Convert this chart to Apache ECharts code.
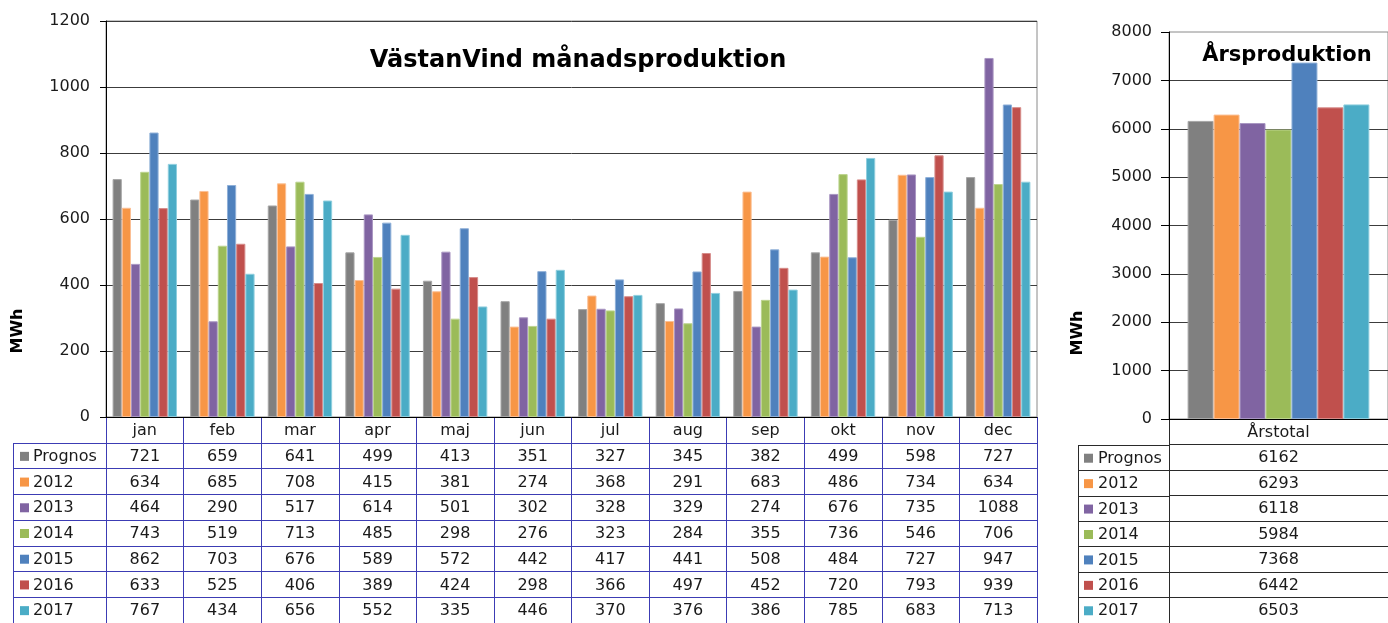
<!DOCTYPE html>
<html>
<head>
<meta charset="utf-8">
<script src="https://cdn.jsdelivr.net/npm/echarts@6/dist/echarts.min.js"></script>
<style>
html,body{margin:0;padding:0;background:#fff;}
#chart{width:1388px;height:623px;}
</style>
</head>
<body>
<div id="chart"></div>
<script>
const months = ['jan','feb','mar','apr','maj','jun','jul','aug','sep','okt','nov','dec'];
const seriesNames = ['Prognos','2012','2013','2014','2015','2016','2017'];
const prognos = [721,659,641,499,413,351,327,345,382,499,598,727];
const y2012 = [634,685,708,415,381,274,368,291,683,486,734,634];
const y2013 = [464,290,517,614,501,302,328,329,274,676,735,1088];
const y2014 = [743,519,713,485,298,276,323,284,355,736,546,706];
const y2015 = [862,703,676,589,572,442,417,441,508,484,727,947];
const y2016 = [633,525,406,389,424,298,366,497,452,720,793,939];
const y2017 = [767,434,656,552,335,446,370,376,386,785,683,713];
const annualCategory = ['Årstotal'];
const annualTotals = [6162,6293,6118,5984,7368,6442,6503];
const monthlyTitle = 'VästanVind månadsproduktion';
const annualTitle = 'Årsproduktion';
const unitLabel = 'MWh';

const monthly = [prognos, y2012, y2013, y2014, y2015, y2016, y2017];
const colors = ['#808080','#F79646','#8064A2','#9BBB59','#4F81BD','#C0504D','#4BACC6'];
const borders = ['#a6a6a6','#fbbf94','#a996c2','#bcd48e','#8fb0d8','#d68c8a','#8fcede'];
const FONT = '"DejaVu Sans", Verdana, sans-serif';
const blueLine = '#3c3cb4';
const darkLine = '#2a2a2a';

const rowCats = [''].concat(seriesNames);

const chart = echarts.init(document.getElementById('chart'));

function cellText(params, api) {
  const p = api.coord([api.value(0), api.value(1)]);
  return {
    type: 'text', x: p[0], y: p[1] + 1,
    style: { text: String(api.value(2)), textAlign: 'center', textVerticalAlign: 'middle',
             align: 'center', verticalAlign: 'middle', font: '16px ' + FONT, fill: '#1a1a1a' }
  };
}
function legendCell(sqOff) {
  return function(params, api) {
    const i = api.value(1);
    const c = api.coord([0, i]);
    const w = api.size([1, 1])[0];
    const left = c[0] - w / 2;
    return {
      type: 'group',
      children: [
        { type: 'rect', shape: { x: left + sqOff, y: c[1] - 4, width: 9, height: 9 }, style: { fill: colors[i] } },
        { type: 'text', x: left + 20, y: c[1] + 1,
          style: { text: seriesNames[i], textAlign: 'left', textVerticalAlign: 'middle', align: 'left', verticalAlign: 'middle',
                   font: '16px ' + FONT, fill: '#1a1a1a' } }
      ]
    };
  };
}

const monthCells = [];
monthly.forEach((arr, s) => arr.forEach((v, m) => monthCells.push([m, s + 1, v])));
const annualCells = annualTotals.map((v, s) => [0, s + 1, v]);
const legendRows = seriesNames.map((n, i) => [0, i]);

const series = [];
monthly.forEach((arr, s) => {
  series.push({
    name: seriesNames[s], type: 'bar', xAxisIndex: 0, yAxisIndex: 0, data: arr,
    barGap: '0%', barCategoryGap: '17%',
    itemStyle: { color: colors[s], borderColor: borders[s], borderWidth: 1 },
    silent: true
  });
});
annualTotals.forEach((v, s) => {
  series.push({
    name: seriesNames[s], type: 'bar', xAxisIndex: 3, yAxisIndex: 3, data: [v],
    barGap: '0%', barCategoryGap: '17%',
    itemStyle: { color: colors[s], borderColor: borders[s], borderWidth: 1 },
    silent: true
  });
});
series.push({ type: 'custom', xAxisIndex: 1, yAxisIndex: 1, data: monthCells, renderItem: cellText, silent: true });
series.push({ type: 'custom', xAxisIndex: 2, yAxisIndex: 2, data: legendRows, renderItem: legendCell(7), silent: true });
series.push({ type: 'custom', xAxisIndex: 4, yAxisIndex: 4, data: annualCells, renderItem: cellText, silent: true });
series.push({ type: 'custom', xAxisIndex: 5, yAxisIndex: 5, data: legendRows, renderItem: legendCell(6), silent: true });

const tableX = (cats, color) => ({
  type: 'category', data: cats, boundaryGap: true,
  axisLine: { show: false }, axisTick: { show: false }, axisLabel: { show: false },
  splitLine: { show: true, interval: 0, showMinLine: true, showMaxLine: true, lineStyle: { color: color, width: 1 } }
});
const tableY = (cats, color) => ({
  type: 'category', data: cats, inverse: true, boundaryGap: true,
  axisLine: { show: false }, axisTick: { show: false }, axisLabel: { show: false },
  splitLine: { show: true, interval: 0, showMinLine: true, showMaxLine: true, lineStyle: { color: color, width: 1 } }
});
const plain = v => String(v);

const option = {
  animation: false,
  backgroundColor: '#ffffff',
  title: [
    { text: monthlyTitle, left: 573, top: 44, textAlign: 'center',
      textStyle: { fontFamily: FONT, fontSize: 24, fontWeight: 'bold', color: '#000' } },
    { text: annualTitle, left: 1282, top: 40, textAlign: 'center',
      textStyle: { fontFamily: FONT, fontSize: 21, fontWeight: 'bold', color: '#000' } }
  ],
  graphic: [
    { type: 'text', x: 18, y: 331, rotation: Math.PI / 2,
      style: { text: unitLabel, textAlign: 'center', textVerticalAlign: 'middle', align: 'center', verticalAlign: 'middle',
               font: 'bold 16px ' + FONT, fill: '#000' } },
    { type: 'text', x: 1078, y: 333, rotation: Math.PI / 2,
      style: { text: unitLabel, textAlign: 'center', textVerticalAlign: 'middle', align: 'center', verticalAlign: 'middle',
               font: 'bold 16px ' + FONT, fill: '#000' } }
  ],
  grid: [
    { left: 106, top: 21, width: 931, height: 396, show: true, borderColor: '#8a8a8a', borderWidth: 1, backgroundColor: 'transparent' },
    { left: 106, top: 417, width: 931, height: 208 },
    { left: 13, top: 443, width: 93, height: 182 },
    { left: 1169, top: 32, width: 228, height: 387, show: true, borderColor: '#8a8a8a', borderWidth: 1, backgroundColor: 'transparent' },
    { left: 1169, top: 419, width: 228, height: 208 },
    { left: 1078, top: 445, width: 91, height: 182 }
  ],
  xAxis: [
    { gridIndex: 0, type: 'category', data: months,
      axisLine: { show: true, lineStyle: { color: '#000', width: 1 } }, axisTick: { show: false },
      axisLabel: { interval: 0, margin: 6, fontFamily: FONT, fontSize: 16, color: '#1a1a1a' } },
    Object.assign({ gridIndex: 1 }, tableX(months, blueLine)),
    Object.assign({ gridIndex: 2 }, tableX(['x'], blueLine)),
    { gridIndex: 3, type: 'category', data: annualCategory,
      axisLine: { show: true, lineStyle: { color: '#000', width: 1 } }, axisTick: { show: false },
      axisLabel: { interval: 0, margin: 6, fontFamily: FONT, fontSize: 16, color: '#1a1a1a' } },
    Object.assign({ gridIndex: 4 }, tableX(annualCategory, darkLine)),
    Object.assign({ gridIndex: 5 }, tableX(['x'], darkLine))
  ],
  yAxis: [
    { gridIndex: 0, type: 'value', min: 0, max: 1200, interval: 200,
      axisLine: { show: true, lineStyle: { color: '#000', width: 1 } },
      axisTick: { show: true, length: 6, lineStyle: { color: '#000' } },
      axisLabel: { margin: 16, fontFamily: FONT, fontSize: 16, color: '#1a1a1a', formatter: plain },
      splitLine: { show: true, lineStyle: { color: '#3c3c3c', width: 1 } } },
    Object.assign({ gridIndex: 1 }, tableY(rowCats, blueLine)),
    Object.assign({ gridIndex: 2 }, tableY(seriesNames, blueLine)),
    { gridIndex: 3, type: 'value', min: 0, max: 8000, interval: 1000,
      axisLine: { show: true, lineStyle: { color: '#000', width: 1 } },
      axisTick: { show: true, length: 8, lineStyle: { color: '#000' } },
      axisLabel: { margin: 17, fontFamily: FONT, fontSize: 16, color: '#1a1a1a', formatter: plain },
      splitLine: { show: true, showMaxLine: false, lineStyle: { color: '#3c3c3c', width: 1 } } },
    Object.assign({ gridIndex: 4 }, tableY(rowCats, darkLine)),
    Object.assign({ gridIndex: 5 }, tableY(seriesNames, darkLine))
  ],
  series: series
};
chart.setOption(option);
</script>
</body>
</html>
